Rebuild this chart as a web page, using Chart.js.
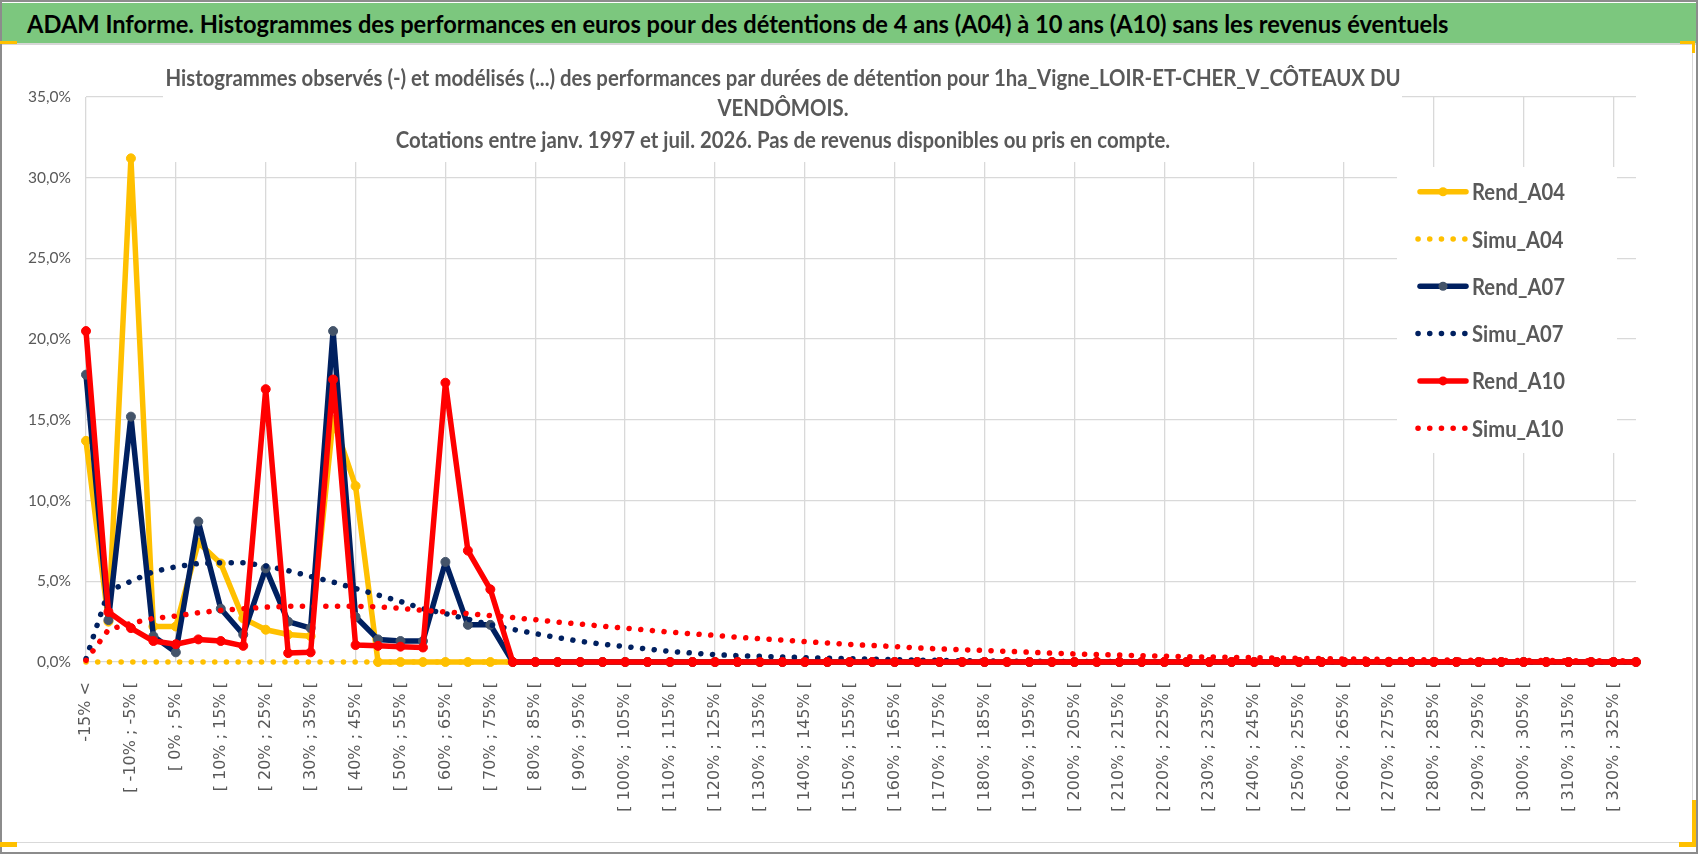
<!DOCTYPE html>
<html lang="fr">
<head>
<meta charset="utf-8">
<title>ADAM Informe</title>
<script src="https://cdn.jsdelivr.net/npm/chart.js@4.4.1/dist/chart.umd.min.js"></script>
<style>
  html, body { margin: 0; padding: 0; background: #fff; }
  body { position: relative; width: 1698px; height: 854px; overflow: hidden; }
  #frame { position: absolute; left: 0; top: 0; width: 1698px; height: 854px; box-sizing: border-box; border: 2px solid #8c8c8c; }
  #banner { position: absolute; left: 0; top: 1px; width: 1694px; height: 40px; background: #7cc77e; border-bottom: 2px solid #d6d6d6; overflow: hidden; }
  #banner h1 { margin: 0; position: absolute; left: 25px; top: 0; line-height: 40px; font-family: Lato, "Noto Sans", sans-serif; font-weight: bold; font-size: 25.5px; white-space: nowrap; color: #000; transform-origin: 0 50%; }
  #box { position: absolute; left: 0; top: 43px; width: 1690px; height: 797px; border-right: 1px solid #d9d9d9; border-bottom: 1px solid #d9d9d9; }
  .hdl { position: absolute; background: #ffc000; }
</style>
</head>
<body>
<div id="frame">
  <div id="banner"><h1 id="bannerText">ADAM Informe. Histogrammes des performances en euros pour des détentions de 4 ans (A04) à 10 ans (A10) sans les revenus éventuels</h1></div>
  <div id="box"><canvas id="perfChart" width="1692" height="797"></canvas></div>
</div>
<div class="hdl" style="left:0;top:41px;width:17px;height:3px"></div>
<div class="hdl" style="left:1680px;top:41px;width:15px;height:3px"></div>
<div class="hdl" style="left:1692px;top:41px;width:3px;height:12px"></div>
<div class="hdl" style="left:0;top:842px;width:17px;height:5px"></div>
<div class="hdl" style="left:1679px;top:842px;width:16px;height:5px"></div>
<div class="hdl" style="left:1692px;top:800px;width:4px;height:47px"></div>
<script>
// categories (classes de performance)
const categories = [
  '-15% <', '[ -15% ; -10% [', '[ -10% ; -5% [', '[ -5% ; 0% [', '[ 0% ; 5% [', '[ 5% ; 10% [',
  '[ 10% ; 15% [', '[ 15% ; 20% [', '[ 20% ; 25% [', '[ 25% ; 30% [', '[ 30% ; 35% [', '[ 35% ; 40% [',
  '[ 40% ; 45% [', '[ 45% ; 50% [', '[ 50% ; 55% [', '[ 55% ; 60% [', '[ 60% ; 65% [', '[ 65% ; 70% [',
  '[ 70% ; 75% [', '[ 75% ; 80% [', '[ 80% ; 85% [', '[ 85% ; 90% [', '[ 90% ; 95% [', '[ 95% ; 100% [',
  '[ 100% ; 105% [', '[ 105% ; 110% [', '[ 110% ; 115% [', '[ 115% ; 120% [', '[ 120% ; 125% [', '[ 125% ; 130% [',
  '[ 130% ; 135% [', '[ 135% ; 140% [', '[ 140% ; 145% [', '[ 145% ; 150% [', '[ 150% ; 155% [', '[ 155% ; 160% [',
  '[ 160% ; 165% [', '[ 165% ; 170% [', '[ 170% ; 175% [', '[ 175% ; 180% [', '[ 180% ; 185% [', '[ 185% ; 190% [',
  '[ 190% ; 195% [', '[ 195% ; 200% [', '[ 200% ; 205% [', '[ 205% ; 210% [', '[ 210% ; 215% [', '[ 215% ; 220% [',
  '[ 220% ; 225% [', '[ 225% ; 230% [', '[ 230% ; 235% [', '[ 235% ; 240% [', '[ 240% ; 245% [', '[ 245% ; 250% [',
  '[ 250% ; 255% [', '[ 255% ; 260% [', '[ 260% ; 265% [', '[ 265% ; 270% [', '[ 270% ; 275% [', '[ 275% ; 280% [',
  '[ 280% ; 285% [', '[ 285% ; 290% [', '[ 290% ; 295% [', '[ 295% ; 300% [', '[ 300% ; 305% [', '[ 305% ; 310% [',
  '[ 310% ; 315% [', '[ 315% ; 320% [', '[ 320% ; 325% [', '[ 325% ; 330% ['
];

// observed histograms (%)
const rendA04 = [13.7, 2.5, 31.2, 2.2, 2.2, 7.4, 6.1, 2.7, 2.0, 1.7, 1.6, 15.0, 10.9, 0, 0, 0, 0, 0, 0, 0,
  0, 0, 0, 0, 0, 0, 0, 0, 0, 0, 0, 0, 0, 0, 0, 0, 0, 0, 0, 0,
  0, 0, 0, 0, 0, 0, 0, 0, 0, 0, 0, 0, 0, 0, 0, 0, 0, 0, 0, 0,
  0, 0, 0, 0, 0, 0, 0, 0, 0, 0];
const rendA07 = [17.8, 2.6, 15.2, 1.6, 0.6, 8.7, 3.3, 1.7, 5.8, 2.5, 2.1, 20.5, 2.8, 1.4, 1.3, 1.3, 6.2, 2.3, 2.3, 0,
  0, 0, 0, 0, 0, 0, 0, 0, 0, 0, 0, 0, 0, 0, 0, 0, 0, 0, 0, 0,
  0, 0, 0, 0, 0, 0, 0, 0, 0, 0, 0, 0, 0, 0, 0, 0, 0, 0, 0, 0,
  0, 0, 0, 0, 0, 0, 0, 0, 0, 0];
const rendA10 = [20.5, 3.1, 2.1, 1.3, 1.1, 1.4, 1.3, 1.0, 16.9, 0.55, 0.6, 17.5, 1.05, 1.0, 0.95, 0.9, 17.3, 6.9, 4.5, 0,
  0, 0, 0, 0, 0, 0, 0, 0, 0, 0, 0, 0, 0, 0, 0, 0, 0, 0, 0, 0,
  0, 0, 0, 0, 0, 0, 0, 0, 0, 0, 0, 0, 0, 0, 0, 0, 0, 0, 0, 0,
  0, 0, 0, 0, 0, 0, 0, 0, 0, 0];

// modelled histograms (%)
const simuA04 = [0, 0, 0, 0, 0, 0, 0, 0, 0, 0, 0, 0, 0, 0, 0, 0, 0, 0, 0, 0,
  0, 0, 0, 0, 0, 0, 0, 0, 0, 0, 0, 0, 0, 0, 0, 0, 0, 0, 0, 0,
  0, 0, 0, 0, 0, 0, 0, 0, 0, 0, 0, 0, 0, 0, 0, 0, 0, 0, 0, 0,
  0, 0, 0, 0, 0, 0, 0, 0, 0, 0];
const simuA07 = [0.2, 4.4, 5.0, 5.6, 5.9, 6.1, 6.15, 6.15, 5.95, 5.66, 5.3, 4.95, 4.55, 4.15, 3.75, 3.3, 3.0, 2.65, 2.3, 2.02,
  1.76, 1.51, 1.28, 1.1, 0.95, 0.8, 0.66, 0.55, 0.46, 0.39, 0.35, 0.31, 0.27, 0.23, 0.2, 0.18, 0.15, 0.12, 0.1, 0.08,
  0.06, 0.05, 0.04, 0.04, 0.03, 0.03, 0.02, 0.02, 0.02, 0.01, 0.01, 0.01, 0.01, 0.01, 0.01, 0, 0, 0, 0, 0,
  0, 0, 0, 0, 0, 0, 0, 0, 0, 0];
const simuA10 = [0.1, 2.0, 2.4, 2.7, 2.85, 3.05, 3.2, 3.3, 3.4, 3.45, 3.45, 3.45, 3.45, 3.42, 3.33, 3.2, 3.1, 3.0, 2.88, 2.75,
  2.62, 2.47, 2.35, 2.22, 2.1, 1.97, 1.85, 1.74, 1.65, 1.53, 1.44, 1.36, 1.26, 1.18, 1.09, 1.02, 0.96, 0.87, 0.81, 0.76,
  0.72, 0.66, 0.61, 0.55, 0.5, 0.46, 0.43, 0.39, 0.36, 0.33, 0.31, 0.29, 0.27, 0.25, 0.23, 0.21, 0.19, 0.18, 0.16, 0.15,
  0.13, 0.12, 0.11, 0.1, 0.1, 0.09, 0.08, 0.08, 0.07, 0.07];

const titleLines = [
  'Histogrammes observés (-) et modélisés (...) des performances par durées de détention pour 1ha_Vigne_LOIR-ET-CHER_V_CÔTEAUX DU',
  'VENDÔMOIS.',
  'Cotations entre janv. 1997 et juil. 2026. Pas de revenus disponibles ou pris en compte.'
];

const YELLOW = '#FFC000';
const NAVY = '#002060';
const SLATE = '#44546A';
const RED = '#FF0000';
const DOTS = [0.1, 11.6];

// Lato est plus large que Calibri : on garde la hauteur et on resserre en largeur
const measureCtx = document.createElement('canvas').getContext('2d');
function squeeze(text, font, width) {
  measureCtx.font = font;
  return width / measureCtx.measureText(text).width;
}

const bannerEl = document.getElementById('bannerText');
bannerEl.style.transform = 'scaleX(' + squeeze(bannerEl.textContent, 'bold 25.5px Lato', 1422).toFixed(4) + ')';

const TITLE_FONT = 'bold 23px Lato';
const titleSx = squeeze(titleLines[0], TITLE_FONT, 1235);
const LEGEND_FONT = 'bold 23px Lato';
const legendSx = squeeze('Rend_A04', LEGEND_FONT, 93);

function solid(label, data, color, markColor, order) {
  return {
    label: label, data: data, order: order,
    borderColor: color, backgroundColor: color, borderWidth: 5.5,
    borderJoinStyle: 'round', borderCapStyle: 'round',
    pointRadius: 4.5, pointBackgroundColor: markColor, pointBorderColor: markColor, pointBorderWidth: 1,
    fill: false, tension: 0, clip: false
  };
}
function dotted(label, data, color, order) {
  return {
    label: label, data: data, order: order,
    borderColor: color, backgroundColor: color, borderWidth: 5.5,
    borderDash: DOTS, borderCapStyle: 'round', borderJoinStyle: 'round',
    pointRadius: 0, fill: false, tension: 0, clip: false
  };
}

const datasets = [
  solid('Rend_A04', rendA04, YELLOW, YELLOW, 6),
  dotted('Simu_A04', simuA04, YELLOW, 5),
  solid('Rend_A07', rendA07, NAVY, SLATE, 4),
  dotted('Simu_A07', simuA07, NAVY, 3),
  solid('Rend_A10', rendA10, RED, RED, 2),
  dotted('Simu_A10', simuA10, RED, 1)
];

function squeezedText(ctx, text, x, y, sx) {
  ctx.save();
  ctx.translate(x, y);
  ctx.scale(sx, 1);
  ctx.fillText(text, 0, 0);
  ctx.restore();
}

// titre et légende posés sur la zone de tracé (comme dans Excel)
const overlay = {
  id: 'overlay',
  beforeDatasetsDraw(chart) {
    const ctx = chart.ctx;
    ctx.save();
    ctx.fillStyle = '#ffffff';
    ctx.fillRect(161, 10, 1239, 107);
    ctx.fillStyle = '#595959';
    ctx.textAlign = 'center';
    ctx.textBaseline = 'alphabetic';
    ctx.font = TITLE_FONT;
    const baselines = [41, 71, 103];
    titleLines.forEach((t, i) => squeezedText(ctx, t, 781, baselines[i], titleSx));

    // légende
    ctx.fillStyle = '#ffffff';
    ctx.fillRect(1395, 122, 220, 286);
    ctx.textAlign = 'left';
    ctx.font = LEGEND_FONT;
    chart.data.datasets.forEach((ds, i) => {
      const y = 146.7 + i * 47.3;
      ctx.save();
      ctx.strokeStyle = ds.borderColor;
      ctx.lineWidth = ds.borderWidth;
      ctx.lineCap = 'round';
      ctx.setLineDash(ds.borderDash || []);
      ctx.beginPath();
      ctx.moveTo(ds.borderDash ? 1416 : 1418, y);
      ctx.lineTo(1464, y);
      ctx.stroke();
      ctx.restore();
      if (ds.pointRadius > 0) {
        ctx.fillStyle = ds.pointBackgroundColor;
        ctx.beginPath();
        ctx.arc(1441, y, ds.pointRadius, 0, Math.PI * 2);
        ctx.fill();
      }
      ctx.fillStyle = '#595959';
      squeezedText(ctx, ds.label, 1470, y + 8.5, legendSx);
    });
    ctx.restore();
  }
};

const ctx = document.getElementById('perfChart').getContext('2d');
new Chart(ctx, {
  type: 'line',
  data: { labels: categories, datasets: datasets },
  options: {
    responsive: false,
    animation: false,
    events: [],
    layout: { padding: { top: 52, right: 58, left: 0, bottom: 0 } },
    plugins: { legend: { display: false }, title: { display: false }, tooltip: { enabled: false } },
    scales: {
      x: {
        border: { display: false },
        grid: {
          color: c => (c.index % 4 === 0 ? '#d9d9d9' : 'rgba(0,0,0,0)'),
          lineWidth: 1.3,
          drawTicks: false
        },
        ticks: {
          autoSkip: false, minRotation: 90, maxRotation: 90, padding: 20,
          color: '#595959', font: { family: 'DejaVu Sans', size: 16 },
          callback: (v, i) => (i % 2 === 0 ? categories[i] : '')
        },
        afterFit: s => { s.height = 180; }
      },
      y: {
        min: 0, max: 35,
        border: { display: false },
        grid: { color: '#d9d9d9', lineWidth: 1.3, drawTicks: false },
        ticks: {
          stepSize: 5, padding: 15, color: '#595959',
          font: { family: 'Lato', size: 15.5 },
          callback: v => v.toFixed(1).replace('.', ',') + '%'
        },
        afterFit: s => { s.width = 84; }
      }
    }
  },
  plugins: [overlay]
});
</script>
</body>
</html>
